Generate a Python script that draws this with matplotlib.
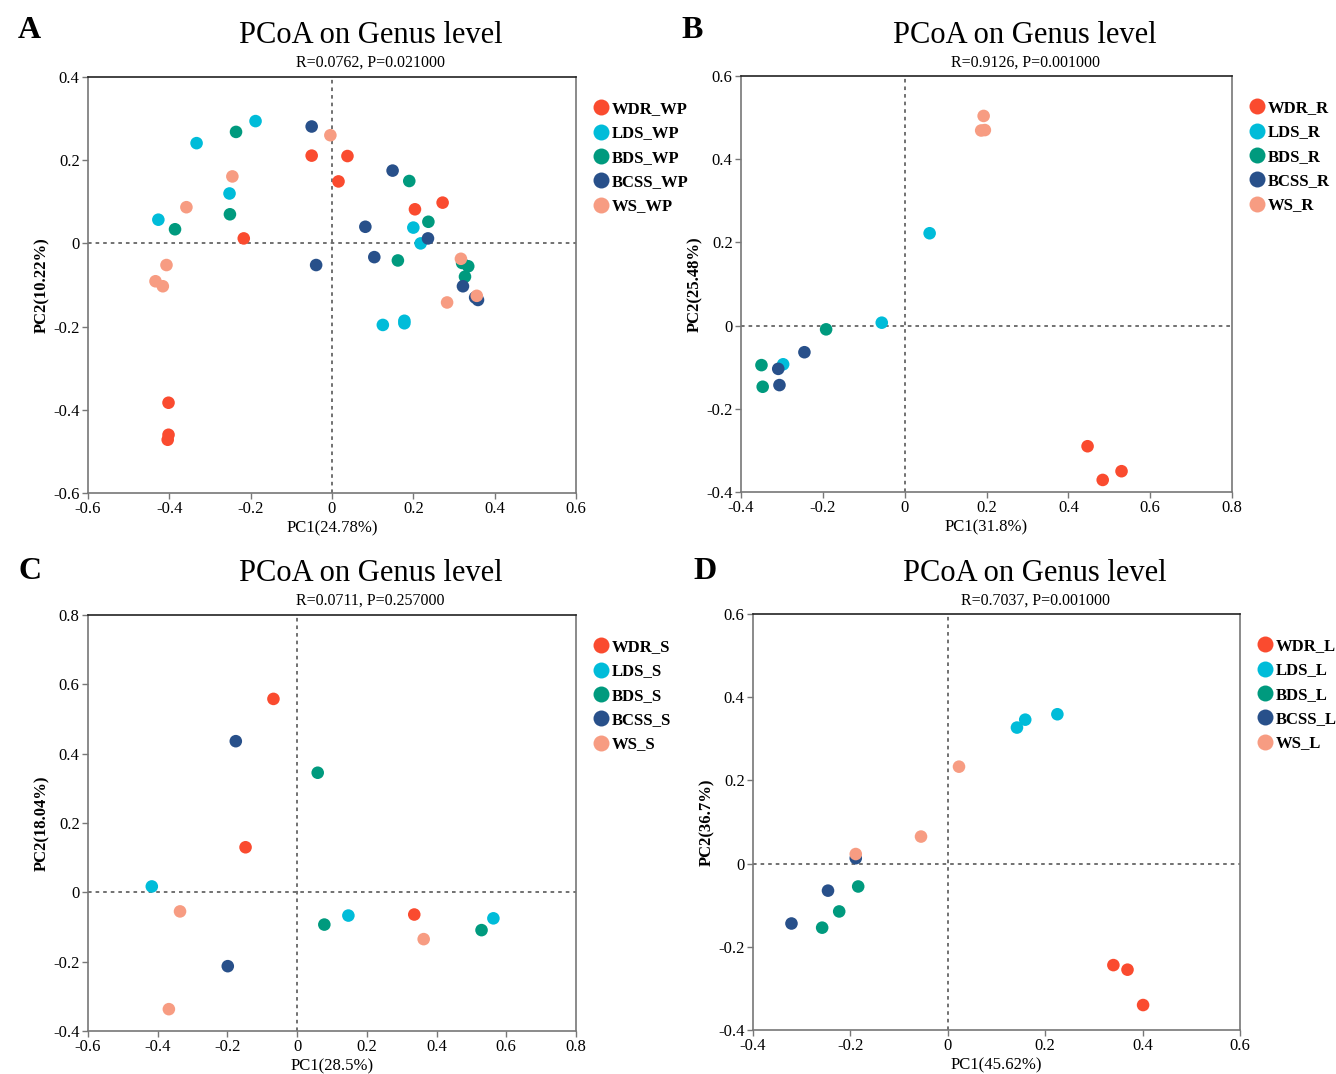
import matplotlib
matplotlib.use("Agg")
import matplotlib.pyplot as plt
from matplotlib.lines import Line2D

plt.rcParams['font.family'] = ['Liberation Serif', 'DejaVu Serif']

groups = ["WDR", "LDS", "BDS", "BCSS", "WS"]
colors = ["#FA4B2F", "#00BCD9", "#009A7E", "#28508A", "#F79C82"]

# Panel A (WP)
A_x = {
    "WDR": [-0.05, 0.038, 0.016, 0.204, 0.272, -0.217, -0.402, -0.402, -0.404],
    "LDS": [-0.188, -0.333, -0.252, -0.427, 0.200, 0.218, 0.125, 0.178, 0.178],
    "BDS": [-0.236, -0.251, -0.386, 0.190, 0.237, 0.162, 0.320, 0.335, 0.327],
    "BCSS": [-0.050, 0.149, 0.082, 0.236, 0.104, -0.039, 0.322, 0.352, 0.359],
    "WS": [-0.004, -0.245, -0.358, -0.407, -0.434, -0.416, 0.317, 0.356, 0.283],
}
A_y = {
    "WDR": [0.211, 0.210, 0.149, 0.082, 0.098, 0.012, -0.383, -0.460, -0.472],
    "LDS": [0.294, 0.241, 0.120, 0.057, 0.038, 0.000, -0.196, -0.186, -0.192],
    "BDS": [0.268, 0.070, 0.034, 0.150, 0.052, -0.041, -0.047, -0.055, -0.080],
    "BCSS": [0.281, 0.175, 0.040, 0.012, -0.033, -0.052, -0.103, -0.130, -0.136],
    "WS": [0.260, 0.161, 0.087, -0.052, -0.091, -0.103, -0.037, -0.126, -0.142],
}
# Panel B (R)
B_x = {
    "WDR": [0.447, 0.530, 0.484],
    "LDS": [0.061, -0.056, -0.297],
    "BDS": [-0.192, -0.350, -0.347],
    "BCSS": [-0.245, -0.309, -0.306],
    "WS": [0.193, 0.187, 0.196],
}
B_y = {
    "WDR": [-0.290, -0.350, -0.371],
    "LDS": [0.222, 0.007, -0.093],
    "BDS": [-0.009, -0.095, -0.147],
    "BCSS": [-0.064, -0.104, -0.143],
    "WS": [0.504, 0.469, 0.470],
}
# Panel C (S)
C_x = {
    "WDR": [-0.068, -0.148, 0.336],
    "LDS": [-0.417, 0.147, 0.563],
    "BDS": [0.059, 0.078, 0.529],
    "BCSS": [-0.176, -0.199],
    "WS": [-0.336, 0.363, -0.368],
}
C_y = {
    "WDR": [0.558, 0.130, -0.064],
    "LDS": [0.017, -0.067, -0.075],
    "BDS": [0.345, -0.093, -0.109],
    "BCSS": [0.436, -0.213],
    "WS": [-0.055, -0.135, -0.337],
}
# Panel D (L)
D_x = {
    "WDR": [0.340, 0.369, 0.401],
    "LDS": [0.142, 0.159, 0.225],
    "BDS": [-0.184, -0.223, -0.258],
    "BCSS": [-0.189, -0.246, -0.321],
    "WS": [-0.189, -0.055, 0.023],
}
D_y = {
    "WDR": [-0.244, -0.255, -0.340],
    "LDS": [0.327, 0.346, 0.359],
    "BDS": [-0.055, -0.115, -0.154],
    "BCSS": [0.013, -0.065, -0.144],
    "WS": [0.023, 0.065, 0.233],
}

panels = [
    dict(letter="A", suffix="WP", xs=A_x, ys=A_y, stat="R=0.0762, P=0.021000",
         xlabel="PC1(24.78%)", ylabel="PC2(10.22%)", xlim=(-0.6, 0.6), ylim=(-0.6, 0.4),
         xt=[-0.6, -0.4, -0.2, 0, 0.2, 0.4, 0.6], yt=[-0.6, -0.4, -0.2, 0, 0.2, 0.4],
         rect=[88, 77, 576, 493]),
    dict(letter="B", suffix="R", xs=B_x, ys=B_y, stat="R=0.9126, P=0.001000",
         xlabel="PC1(31.8%)", ylabel="PC2(25.48%)", xlim=(-0.4, 0.8), ylim=(-0.4, 0.6),
         xt=[-0.4, -0.2, 0, 0.2, 0.4, 0.6, 0.8], yt=[-0.4, -0.2, 0, 0.2, 0.4, 0.6],
         rect=[741, 76, 1232, 492]),
    dict(letter="C", suffix="S", xs=C_x, ys=C_y, stat="R=0.0711, P=0.257000",
         xlabel="PC1(28.5%)", ylabel="PC2(18.04%)", xlim=(-0.6, 0.8), ylim=(-0.4, 0.8),
         xt=[-0.6, -0.4, -0.2, 0, 0.2, 0.4, 0.6, 0.8], yt=[-0.4, -0.2, 0, 0.2, 0.4, 0.6, 0.8],
         rect=[88, 615, 576, 1031]),
    dict(letter="D", suffix="L", xs=D_x, ys=D_y, stat="R=0.7037, P=0.001000",
         xlabel="PC1(45.62%)", ylabel="PC2(36.7%)", xlim=(-0.4, 0.6), ylim=(-0.4, 0.6),
         xt=[-0.4, -0.2, 0, 0.2, 0.4, 0.6], yt=[-0.4, -0.2, 0, 0.2, 0.4, 0.6],
         rect=[753, 614, 1240, 1030]),
]

W, H = 1336, 1074
fig = plt.figure(figsize=(W / 100, H / 100), dpi=100)

def fmt(v):
    if abs(v) < 1e-9:
        return "0"
    return ("%.1f" % v)

for p in panels:
    l, t, r, b = p["rect"]
    ax = fig.add_axes([l / W, 1 - b / H, (r - l) / W, (b - t) / H])
    ax.set_xlim(*p["xlim"])
    ax.set_ylim(*p["ylim"])
    ax.axhline(0, color="#666666", lw=1.3, ls=(0, (2, 2.2)), zorder=1)
    ax.axvline(0, color="#666666", lw=1.3, ls=(0, (2, 2.2)), zorder=1)
    for g, c in zip(groups, colors):
        ax.scatter(p["xs"][g], p["ys"][g], s=82, color=c, edgecolors="none", zorder=3)
    ax.set_xticks(p["xt"])
    ax.set_xticklabels([fmt(v) for v in p["xt"]])
    ax.set_yticks(p["yt"])
    ax.set_yticklabels([fmt(v) for v in p["yt"]])
    ax.tick_params(direction="out", length=4, width=1, color="#777777",
                   labelsize=12, pad=2)
    for s in ["left", "right", "bottom"]:
        ax.spines[s].set_color("#777777")
        ax.spines[s].set_linewidth(1.2)
    ax.spines["top"].set_color("#222222")
    ax.spines["top"].set_linewidth(1.2)
    ax.set_xlabel(p["xlabel"], fontsize=12, labelpad=2)
    ax.set_ylabel(p["ylabel"], fontsize=12, fontweight="bold", labelpad=2)

    handles = [Line2D([], [], marker="o", ls="none", markersize=11.5,
                      markerfacecolor=c, markeredgecolor="none") for c in colors]
    labels = [g + "_" + p["suffix"] for g in groups]
    ax.legend(handles, labels, loc="upper left", bbox_to_anchor=(1.022, 0.958),
              frameon=False, handlelength=0.9, handletextpad=0.2,
              labelspacing=0.5, borderaxespad=0.0,
              prop={"weight": "bold", "size": 12, "family": "Liberation Serif"})

    top = t < 300
    cx = (l + r) / 2 / W + 0.029
    fig.text(cx, 1 - (43 if top else 581) / H, "PCoA on Genus level",
             ha="center", va="baseline", fontsize=22)
    fig.text(cx, 1 - (67 if top else 605) / H, p["stat"],
             ha="center", va="baseline", fontsize=11.5)
    lx = 18 / W if l < 300 else (l - 60) / W
    fig.text(lx, 1 - (38 if top else 579) / H, p["letter"],
             ha="left", va="baseline", fontsize=23, fontweight="bold")

fig.savefig("out.png", dpi=100)
